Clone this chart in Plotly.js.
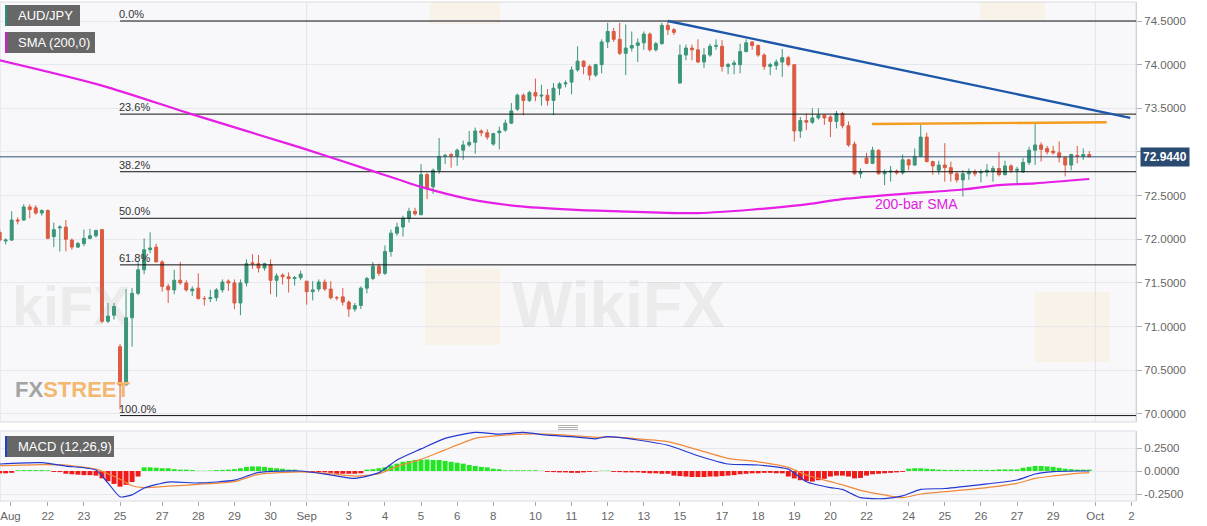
<!DOCTYPE html>
<html>
<head>
<meta charset="utf-8">
<script src="https://cdn.plot.ly/plotly-3.0.1.min.js"></script>
<style>html,body{margin:0;padding:0;background:#fff;}#chart{width:1207px;height:526px;}</style>
</head>
<body>
<div id="chart"></div>
<script>
// ---------- DATA (4-hour bars, AUD/JPY) ----------
const openP = [
72.08,71.98,71.99,72.22,72.22,72.37,72.36,72.30,72.33,72.03,
72.13,72.14,71.99,71.91,71.95,72.01,72.04,72.11,71.06,71.13,
70.77,70.33,71.10,71.38,71.65,71.88,71.91,71.74,71.46,71.42,
71.53,71.50,71.41,71.44,71.32,71.32,71.33,71.42,71.52,71.50,
71.27,71.50,71.73,71.72,71.67,71.71,71.53,71.59,71.57,71.55,
71.56,71.52,71.40,71.43,71.51,71.43,71.33,71.34,71.28,71.20,
71.24,71.44,71.55,71.69,71.61,71.86,72.07,72.14,72.24,72.32,
72.28,72.74,72.60,72.79,72.95,72.97,72.95,73.02,73.08,73.11,
73.24,73.22,73.09,73.22,73.25,73.33,73.49,73.65,73.59,73.68,
73.64,73.65,73.59,73.73,73.78,73.80,73.94,74.04,73.98,73.88,
74.00,74.26,74.38,74.29,74.13,74.19,74.22,74.25,74.35,74.17,
74.24,74.45,74.40,73.79,74.11,74.19,74.17,74.03,74.11,74.21,
74.21,73.98,74.00,74.00,74.15,74.26,74.22,74.11,73.98,73.99,
74.03,74.08,74.00,73.24,73.36,73.34,73.39,73.42,73.40,73.35,
73.44,73.30,73.09,72.75,72.93,72.87,73.02,72.75,72.77,72.78,
72.76,72.91,72.85,72.95,73.17,72.89,72.79,72.85,72.82,72.75,
72.68,72.75,72.77,72.76,72.77,72.78,72.81,72.74,72.84,72.79,
72.77,72.88,73.02,73.08,73.04,73.01,72.99,72.94,72.85,72.96,
72.95,72.97];
const highP = [
72.12,72.01,72.32,72.25,72.40,72.40,72.39,72.34,72.34,72.19,
72.16,72.22,72.01,71.97,72.11,72.12,72.11,72.12,71.27,71.27,
70.80,71.43,71.44,71.74,72.01,72.08,71.95,71.76,71.49,71.65,
71.74,71.53,71.46,71.61,71.35,71.42,71.44,71.54,71.54,71.54,
71.54,71.77,71.83,71.82,71.73,71.77,71.61,71.61,71.62,71.58,
71.64,71.52,71.52,71.54,71.54,71.52,71.35,71.44,71.30,71.27,
71.46,71.57,71.74,71.72,71.93,72.11,72.19,72.27,72.36,72.36,
72.86,72.76,72.81,73.16,72.98,72.99,73.04,73.13,73.24,73.28,
73.26,73.26,73.22,73.29,73.37,73.56,73.67,73.67,73.70,73.84,
73.77,73.72,73.79,73.80,73.82,73.98,74.21,74.05,74.00,74.01,
74.29,74.48,74.42,74.48,74.46,74.38,74.30,74.38,74.37,74.26,
74.48,74.50,74.42,74.23,74.23,74.23,74.29,74.19,74.24,74.29,
74.28,74.02,74.05,74.24,74.29,74.27,74.23,74.13,74.02,74.06,
74.18,74.10,74.00,73.40,73.44,73.50,73.50,73.43,73.42,73.47,
73.46,73.35,73.12,72.81,72.99,73.06,73.03,72.80,72.84,72.80,
72.97,72.92,73.04,73.31,73.22,72.90,72.90,73.10,72.89,72.77,
72.79,72.81,72.80,72.80,72.86,72.84,73.00,72.90,72.86,72.83,
72.93,73.06,73.33,73.11,73.07,73.07,73.12,72.95,72.98,73.07,
73.04,73.01];
const lowP = [
71.96,71.94,71.98,72.17,72.21,72.24,72.28,72.27,72.00,71.91,
71.86,71.86,71.88,71.90,71.92,72.00,72.02,71.04,71.04,71.08,
70.05,70.33,70.77,71.36,71.60,71.84,71.74,71.40,71.27,71.37,
71.48,71.40,71.35,71.31,71.24,71.28,71.29,71.39,71.41,71.20,
71.13,71.46,71.66,71.62,71.64,71.37,71.34,71.48,71.39,71.47,
71.53,71.25,71.30,71.40,71.41,71.31,71.30,71.24,71.11,71.17,
71.20,71.38,71.53,71.58,71.59,71.80,72.04,72.03,72.19,72.27,
72.28,72.46,72.52,72.75,72.86,72.82,72.84,72.91,73.06,72.98,
73.18,73.14,73.07,73.03,73.23,73.32,73.47,73.42,73.57,73.58,
73.53,73.53,73.42,73.65,73.74,73.66,73.92,73.89,73.82,73.86,
73.90,74.19,74.26,74.11,73.88,74.15,74.03,74.17,74.15,74.15,
74.23,74.34,74.34,73.78,74.05,74.05,74.02,73.96,74.09,74.17,
73.92,73.89,73.89,73.90,74.14,74.17,74.09,73.94,73.88,73.94,
73.86,73.98,73.12,73.16,73.25,73.32,73.37,73.31,73.17,73.27,
73.27,73.06,72.74,72.70,72.86,72.86,72.74,72.62,72.66,72.74,
72.74,72.79,72.84,72.94,72.88,72.74,72.74,72.66,72.66,72.65,
72.49,72.68,72.72,72.65,72.72,72.66,72.72,72.73,72.76,72.64,
72.76,72.85,72.85,72.89,72.97,72.97,72.88,72.72,72.79,72.87,
72.91,72.94];
const closeP = [
71.99,71.99,72.22,72.21,72.37,72.34,72.30,72.33,72.01,72.11,
72.14,72.00,71.91,71.95,72.01,72.04,72.10,71.06,71.12,71.23,
70.33,71.10,71.38,71.65,71.88,71.90,71.74,71.46,71.42,71.53,
71.50,71.42,71.43,71.32,71.32,71.33,71.42,71.51,71.50,71.27,
71.50,71.72,71.72,71.67,71.72,71.53,71.58,71.57,71.55,71.56,
71.60,71.40,71.42,71.51,71.43,71.33,71.33,71.28,71.20,71.24,
71.44,71.55,71.69,71.61,71.86,72.07,72.14,72.24,72.32,72.29,
72.74,72.58,72.79,72.95,72.96,72.95,73.02,73.08,73.11,73.24,
73.22,73.17,73.21,73.24,73.33,73.47,73.65,73.59,73.68,73.64,
73.65,73.59,73.73,73.78,73.79,73.94,74.04,73.98,73.88,74.00,
74.26,74.38,74.29,74.13,74.19,74.22,74.25,74.35,74.17,74.24,
74.45,74.40,74.37,74.11,74.19,74.17,74.03,74.11,74.21,74.22,
73.98,74.00,74.02,74.15,74.25,74.22,74.11,73.98,74.00,74.03,
74.08,74.00,73.24,73.36,73.34,73.39,73.42,73.39,73.35,73.44,
73.30,73.08,72.75,72.77,72.87,73.02,72.75,72.77,72.78,72.76,
72.91,72.85,72.95,73.17,72.89,72.84,72.85,72.82,72.75,72.68,
72.75,72.77,72.75,72.77,72.79,72.81,72.74,72.84,72.79,72.80,
72.88,73.02,73.08,73.03,73.00,72.99,72.94,72.85,72.97,72.95,
72.97,72.944];

// MACD histogram, one value per bar
const macdHist = [
-0.025,-0.025,-0.02,
0.008,0.01,0.01,0.01,0.01,0.008,
-0.01,-0.012,
-0.03,-0.035,-0.04,-0.045,-0.045,-0.05,
-0.08,-0.11,-0.14,-0.17,-0.15,-0.12,-0.06,
0.04,0.04,0.035,0.03,0.03,0.02,0.015,0.015,0.01,
0.003,0.003,0.005,
0.01,0.012,0.015,0.02,0.03,0.045,0.05,0.05,0.045,0.035,0.03,0.025,0.015,0.015,
-0.008,-0.01,-0.01,-0.012,-0.015,
-0.02,-0.03,-0.03,-0.03,-0.03,-0.025,
0.015,0.02,0.03,0.04,0.06,0.08,
0.1,0.11,0.12,0.12,0.125,0.12,0.12,
0.11,0.1,0.09,0.08,
0.065,0.055,0.045,0.04,
0.025,0.02,
0.008,0.008,0.008,0.008,0.008,0.008,
0.002,
-0.01,-0.012,-0.015,-0.015,-0.02,-0.02,-0.015,-0.01,-0.005,
0.004,0.004,
-0.01,-0.012,-0.015,-0.015,-0.015,
-0.02,-0.025,-0.025,-0.03,-0.03,
-0.05,-0.055,-0.06,-0.065,-0.065,-0.065,-0.06,-0.06,-0.055,-0.05,-0.045,
-0.035,-0.03,-0.025,-0.025,-0.02,-0.02,-0.025,-0.025,
-0.06,-0.08,-0.1,-0.11,-0.115,-0.1,-0.085,
-0.06,-0.05,-0.05,-0.06,-0.08,-0.075,-0.05,
-0.035,-0.03,-0.025,-0.02,-0.015,-0.01,
0.025,0.03,0.03,0.025,0.02,0.015,
0.012,0.012,0.012,0.012,0.012,0.012,0.012,0.012,0.012,
0.018,0.018,0.018,0.018,
0.035,0.045,0.055,0.055,0.05,0.045,0.035,
0.025,0.02,0.015,0.015,0.015];

// MACD & signal lines (read at sample bars)
const macdBars = [0,7,11,16,18,20,22,24,28,33,39,43,50,55,59,63,66,70,74,79,83,87,91,95,99,101,106,111,116,121,126,131,134,138,140,143,147,150,153,157,164,169,172,175,179,181];
const macdLine = [0.076,0.09,0.054,0.01,-0.13,-0.28,-0.26,-0.185,-0.12,-0.13,-0.10,-0.015,0.0,-0.043,-0.08,-0.018,0.12,0.24,0.355,0.42,0.40,0.42,0.39,0.373,0.35,0.373,0.337,0.28,0.166,0.076,0.065,0.02,-0.116,-0.18,-0.20,-0.29,-0.30,-0.27,-0.20,-0.19,-0.14,-0.098,-0.033,-0.007,0.0,0.0];
const signalLine = [0.058,0.07,0.065,0.02,-0.03,-0.09,-0.16,-0.18,-0.165,-0.145,-0.115,-0.036,-0.01,-0.03,-0.055,-0.03,0.05,0.127,0.23,0.355,0.385,0.40,0.40,0.385,0.366,0.37,0.35,0.32,0.23,0.138,0.10,0.04,-0.043,-0.116,-0.15,-0.21,-0.26,-0.29,-0.25,-0.225,-0.18,-0.134,-0.08,-0.054,-0.025,-0.018];

// 200-bar SMA (read at sample bars)
const smaBars = [0,17,32,50,62,66,70,78,86,95,103,116,133,140,150,160,166,172,181];
const smaVals = [74.05,73.76,73.43,73.05,72.78,72.69,72.60,72.46,72.38,72.34,72.32,72.30,72.39,72.46,72.52,72.57,72.62,72.64,72.69];

// drawn lines
const trendBars = [111, 187.8];
const trendVals = [74.50, 73.39];
const resBars = [144.9, 183.9];
const resVals = [73.32, 73.34];
const fibHigh = 74.50, fibLow = 69.98;
const fibPcts = [0, 23.6, 38.2, 50, 61.8, 100];
const fibLabels = ["0.0%", "23.6%", "38.2%", "50.0%", "61.8%", "100.0%"];
const fibStartBar = 20;
const lastPrice = 72.944;
const lastPriceLabel = "72.9440";

// x axis labels
const tickBars = [1.8,8,14,20,27,33,39,45,51,58,64,70,76,82,89,95,101,107,113,120,126,132,138,144,151,157,163,169,175,182,188];
const tickText = ["Aug","22","23","25","27","28","29","30","Sep","3","4","5","6","8","10","11","12","13","15","17","18","19","20","22","24","25","26","27","29","Oct","2"];
const monthBars = [51, 182];
const priceTicks = [70,70.5,71,71.5,72,72.5,73,73.5,74,74.5];
const macdTicks = [-0.25, 0, 0.25];
const macdTickText = ["-0.2500", "0.0000", "0.2500"];

// ---------- BUILD ----------
const N = closeP.length;
const xs = Array.from({length: N}, (_, i) => i);
const X0 = 0.06, X1 = 188.76;
const FONT = "Liberation Sans, Arial, sans-serif";

const traces = [];
fibPcts.forEach(p => {
  const lvl = fibHigh - (fibHigh - fibLow) * p / 100;
  traces.push({type:'scatter', mode:'lines', x:[fibStartBar, X1], y:[lvl, lvl],
    line:{color:'#111111', width:1}, hoverinfo:'skip', showlegend:false, xaxis:'x', yaxis:'y'});
});
traces.push({type:'scatter', mode:'lines', x:[X0, X1], y:[lastPrice, lastPrice],
  line:{color:'#34506f', width:1}, hoverinfo:'skip', showlegend:false});
traces.push({type:'candlestick', x:xs, open:openP, high:highP, low:lowP, close:closeP,
  increasing:{line:{color:'#3a9679', width:1}, fillcolor:'#3a9679'},
  decreasing:{line:{color:'#db5b42', width:1}, fillcolor:'#db5b42'},
  whiskerwidth:0, hoverinfo:'skip', showlegend:false, xaxis:'x', yaxis:'y'});
traces.push({type:'scatter', mode:'lines', x:smaBars, y:smaVals,
  line:{color:'#e61ee6', width:2.2, shape:'spline', smoothing:0.8}, hoverinfo:'skip', showlegend:false});
traces.push({type:'scatter', mode:'lines', x:trendBars, y:trendVals,
  line:{color:'#1c57a8', width:2.4}, hoverinfo:'skip', showlegend:false});
traces.push({type:'scatter', mode:'lines', x:resBars, y:resVals,
  line:{color:'#f39c1f', width:2.4}, hoverinfo:'skip', showlegend:false});
traces.push({type:'bar', x:xs, y:macdHist, xaxis:'x', yaxis:'y2',
  marker:{color: macdHist.map(v => v >= 0 ? '#22e622' : '#f01a1a'), line:{width:0}},
  hoverinfo:'skip', showlegend:false});
traces.push({type:'scatter', mode:'lines', x:macdBars, y:signalLine, xaxis:'x', yaxis:'y2',
  line:{color:'#f0893a', width:1.2, shape:'spline', smoothing:0.6}, hoverinfo:'skip', showlegend:false});
traces.push({type:'scatter', mode:'lines', x:macdBars, y:macdLine, xaxis:'x', yaxis:'y2',
  line:{color:'#2438d0', width:1.2, shape:'spline', smoothing:0.6}, hoverinfo:'skip', showlegend:false});

// pixel helpers for decorations (plot area 1136 x 499, top margin 2)
const PW = 1136, PH = 499, PB = 501;
const px = v => v / PW;
const py = v => (PB - v) / PH;

const LOGO = 'rgba(246,214,140,0.16)';
const shapes = [
  {type:'rect', xref:'paper', yref:'paper', x0:0, x1:1, y0:py(422), y1:1, fillcolor:'#f8f8fa', line:{color:'#d9dbe3', width:1}, layer:'below'},
  {type:'rect', xref:'paper', yref:'paper', x0:0, x1:1, y0:0, y1:py(431), fillcolor:'#f8f8fa', line:{color:'#d9dbe3', width:1}, layer:'below'},
  {type:'rect', xref:'paper', yref:'paper', x0:px(425), x1:px(500), y0:py(345), y1:py(268), fillcolor:LOGO, line:{width:0}, layer:'below'},
  {type:'rect', xref:'paper', yref:'paper', x0:px(1035), x1:px(1110), y0:py(362), y1:py(292), fillcolor:LOGO, line:{width:0}, layer:'below'},
  {type:'rect', xref:'paper', yref:'paper', x0:px(430), x1:px(500), y0:py(24), y1:1, fillcolor:LOGO, line:{width:0}, layer:'below'},
  {type:'rect', xref:'paper', yref:'paper', x0:px(980), x1:px(1045), y0:py(20), y1:1, fillcolor:LOGO, line:{width:0}, layer:'below'},
  {type:'rect', xref:'paper', yref:'paper', x0:px(5), x1:px(80), y0:py(26), y1:py(5), fillcolor:'rgba(90,90,90,0.92)', line:{width:0}},
  {type:'rect', xref:'paper', yref:'paper', x0:px(5), x1:px(7), y0:py(26), y1:py(5), fillcolor:'#2a8f80', line:{width:0}},
  {type:'rect', xref:'paper', yref:'paper', x0:px(5), x1:px(95), y0:py(53), y1:py(32), fillcolor:'rgba(90,90,90,0.92)', line:{width:0}},
  {type:'rect', xref:'paper', yref:'paper', x0:px(5), x1:px(7), y0:py(53), y1:py(32), fillcolor:'#d21ed2', line:{width:0}},
  {type:'rect', xref:'paper', yref:'paper', x0:px(5), x1:px(114), y0:py(457), y1:py(436), fillcolor:'rgba(90,90,90,0.92)', line:{width:0}},
  {type:'rect', xref:'paper', yref:'paper', x0:px(5), x1:px(7), y0:py(457), y1:py(436), fillcolor:'#2040c8', line:{width:0}},
];
monthBars.forEach(b => {
  shapes.push({type:'line', xref:'x', yref:'y domain', x0:b, x1:b, y0:0, y1:1, line:{color:'#e2e3ea', width:1}, layer:'below'});
  shapes.push({type:'line', xref:'x', yref:'y2 domain', x0:b, x1:b, y0:0, y1:1, line:{color:'#e2e3ea', width:1}, layer:'below'});
});
[425.5, 427.5, 429.5].forEach(v => {
  shapes.push({type:'line', xref:'paper', yref:'paper', x0:px(558), x1:px(578), y0:py(v), y1:py(v), line:{color:'#9a9a9a', width:0.8}});
});

const annotations = [];
fibPcts.forEach((p, k) => {
  const lvl = fibHigh - (fibHigh - fibLow) * p / 100;
  annotations.push({xref:'x', yref:'y', x:fibStartBar, y:lvl, text:fibLabels[k], showarrow:false,
    xanchor:'left', yanchor:'bottom', xshift:-2, font:{family:FONT, size:11, color:'#333333'}, borderpad:0});
});
annotations.push({xref:'x', yref:'y', x:145, y:72.4, text:'200-bar SMA', showarrow:false, xanchor:'left', yanchor:'middle',
  font:{family:FONT, size:14, color:'#e020e0'}});
annotations.push({xref:'paper', yref:'paper', x:px(16), y:py(15.5), text:'AUD/JPY', showarrow:false, xanchor:'left', yanchor:'middle',
  font:{family:FONT, size:13, color:'#ffffff'}});
annotations.push({xref:'paper', yref:'paper', x:px(16), y:py(42.5), text:'SMA (200,0)', showarrow:false, xanchor:'left', yanchor:'middle',
  font:{family:FONT, size:13, color:'#ffffff'}});
annotations.push({xref:'paper', yref:'paper', x:px(16), y:py(446.5), text:'MACD (12,26,9)', showarrow:false, xanchor:'left', yanchor:'middle',
  font:{family:FONT, size:13, color:'#ffffff'}});
annotations.push({xref:'paper', yref:'y', x:1, y:lastPrice, text:'<b>' + lastPriceLabel + '</b>', showarrow:false, xanchor:'left', yanchor:'middle',
  xshift:4, bgcolor:'#2b4a72', borderpad:2, font:{family:FONT, size:12, color:'#ffffff'}});
annotations.push({xref:'paper', yref:'paper', x:px(14), y:py(389), text:'<b><span style="color:#a3a3a3">FX</span><span style="color:#f3b870">STREET</span></b>',
  showarrow:false, xanchor:'left', yanchor:'middle', borderpad:0, font:{family:FONT, size:22, color:'#f3b870'}});
annotations.push({xref:'paper', yref:'paper', x:px(510), y:py(305), text:'<b>WikiFX</b>', showarrow:false, xanchor:'left', yanchor:'middle',
  font:{family:FONT, size:64, color:'rgba(150,150,150,0.13)'}});
annotations.push({xref:'paper', yref:'paper', x:px(132), y:py(305), text:'<b>kiFX</b>', showarrow:false, xanchor:'right', yanchor:'middle',
  font:{family:FONT, size:56, color:'rgba(150,150,150,0.13)'}});

const layout = {
  width:1207, height:526,
  margin:{l:0, r:71, t:2, b:25, pad:0},
  paper_bgcolor:'#ffffff', plot_bgcolor:'rgba(0,0,0,0)',
  showlegend:false, hovermode:false, dragmode:false,
  bargap:0.18,
  font:{family:FONT, size:11.5, color:'#666666'},
  xaxis:{range:[X0, X1], anchor:'y2', showgrid:false, zeroline:false, rangeslider:{visible:false},
    tickmode:'array', tickvals:tickBars, ticktext:tickText, ticks:'outside', ticklen:4, tickcolor:'#aaaaaa',
    ticklabeloverflow:'allow', showline:false, tickfont:{family:FONT, size:11.5, color:'#666666'}, fixedrange:true},
  yaxis:{domain:[py(422), 1], range:[69.9066, 74.7176], side:'right', anchor:'x',
    tickmode:'array', tickvals:priceTicks, tickformat:'.4f', ticks:'outside', ticklen:5, tickcolor:'#b0b0b0',
    showgrid:true, gridcolor:'#e7e8ee', gridwidth:1, zeroline:false, showline:true, linecolor:'#d0d2da',
    tickfont:{family:FONT, size:11.5, color:'#666666'}, fixedrange:true},
  yaxis2:{domain:[0, py(431)], range:[-0.326, 0.4348], side:'right', anchor:'x',
    tickmode:'array', tickvals:macdTicks, ticktext:macdTickText, ticks:'outside', ticklen:5, tickcolor:'#b0b0b0',
    showgrid:true, gridcolor:'#e7e8ee', zeroline:false, showline:true, linecolor:'#d0d2da',
    tickfont:{family:FONT, size:11.5, color:'#666666'}, fixedrange:true},
  shapes:shapes,
  annotations:annotations
};

Plotly.newPlot('chart', traces, layout, {staticPlot:true, displayModeBar:false});
</script>
</body>
</html>
